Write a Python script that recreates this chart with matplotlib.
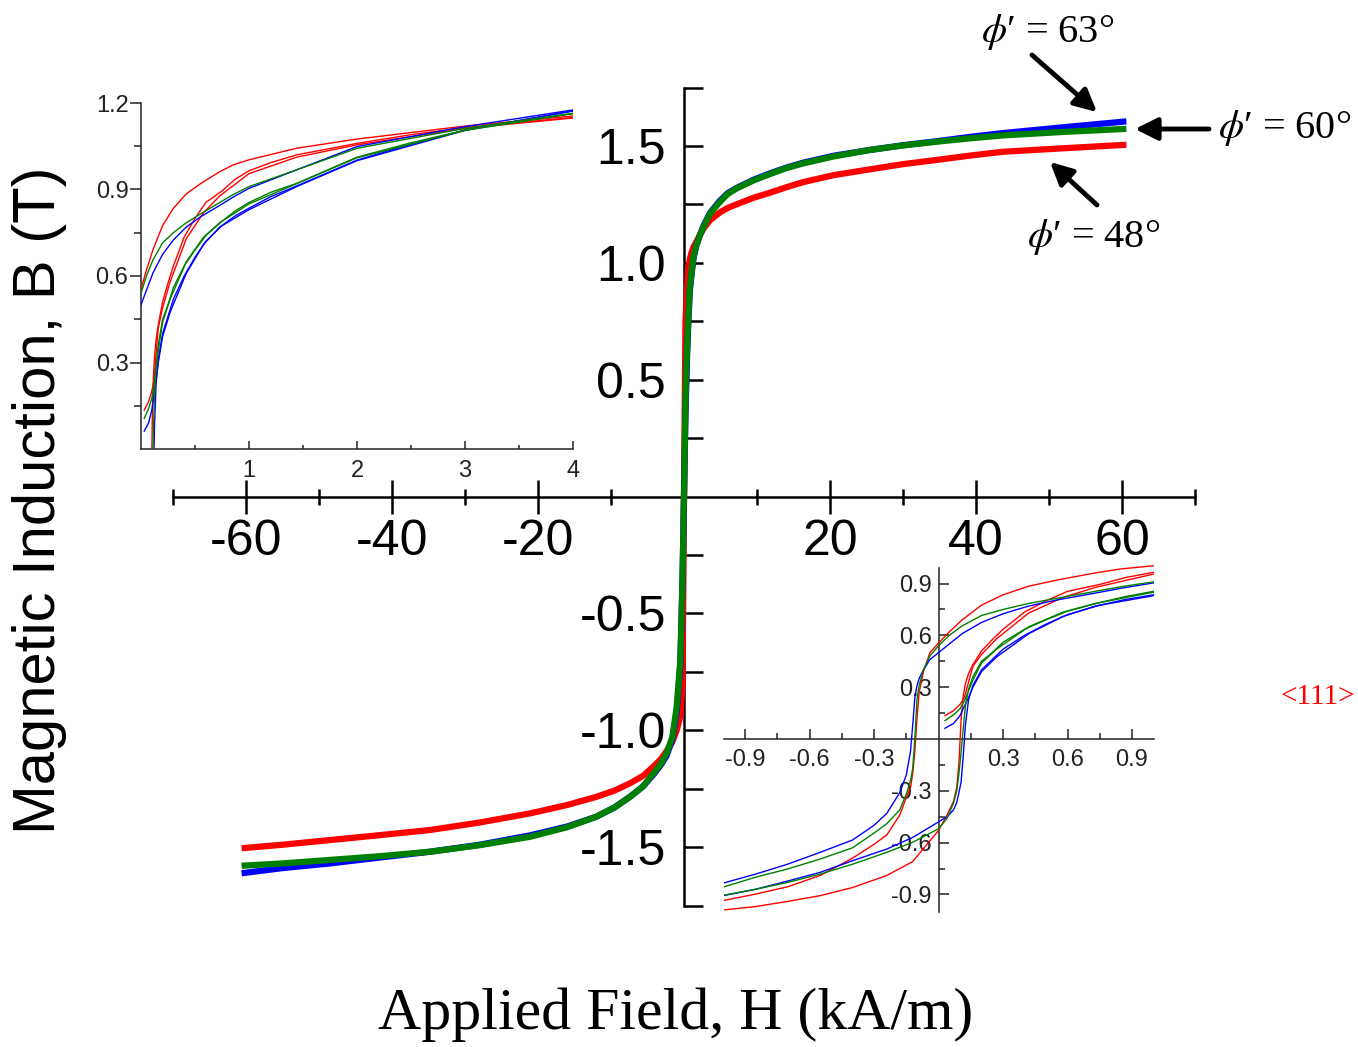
import matplotlib
matplotlib.use("Agg")
import matplotlib.pyplot as plt
from matplotlib.ticker import FixedLocator, FixedFormatter

plt.rcParams['font.family'] = 'Liberation Sans'
plt.rcParams['axes.unicode_minus'] = False
plt.rcParams['mathtext.fontset'] = 'stix'

# ---------------- full loop, H in kA/m, B in T ----------------
H_main = [-60.6, -55.0, -48.5, -42.0, -34.8, -28.0, -21.1, -16.0, -12.0, -9.5, -7.4, -5.6, -4.2,
          -3.2, -2.4, -1.6, -1.0, -0.5, -0.2, 0.0,
          0.2, 0.4, 0.6, 0.8, 1.0, 1.3, 1.7, 2.2, 2.7, 3.6, 4.9, 6.0, 7.2, 9.5, 11.8, 14.0, 16.3,
          20.5, 25.5, 30.0, 34.6, 39.0, 43.7, 52.0, 60.6]
B_main_48 = [-1.505, -1.49, -1.47, -1.45, -1.427, -1.395, -1.356, -1.32, -1.285, -1.258, -1.227, -1.195, -1.156,
             -1.125, -1.09, -1.05, -1.0, -0.94, -0.80, 0.0,
             0.75, 0.88, 0.98, 1.015, 1.04, 1.068, 1.09, 1.12, 1.148, 1.183, 1.215, 1.235, 1.25, 1.278, 1.30,
             1.323, 1.345, 1.375, 1.40, 1.422, 1.44, 1.458, 1.475, 1.49, 1.505]
B_main_60 = [-1.58, -1.57, -1.555, -1.54, -1.52, -1.492, -1.456, -1.415, -1.37, -1.33, -1.285, -1.24, -1.185,
             -1.145, -1.10, -1.03, -0.90, -0.70, -0.35, 0.0,
             0.40, 0.62, 0.77, 0.895, 0.95, 1.026, 1.075, 1.12, 1.155, 1.212, 1.26, 1.295, 1.318, 1.352, 1.38,
             1.405, 1.425, 1.455, 1.483, 1.502, 1.518, 1.532, 1.545, 1.56, 1.573]
B_main_63 = [-1.612, -1.59, -1.57, -1.546, -1.52, -1.49, -1.45, -1.412, -1.37, -1.33, -1.285, -1.24, -1.19,
             -1.15, -1.11, -1.04, -0.92, -0.72, -0.35, 0.0,
             0.35, 0.58, 0.75, 0.88, 0.94, 1.02, 1.075, 1.12, 1.16, 1.215, 1.265, 1.298, 1.32, 1.355, 1.383,
             1.407, 1.428, 1.458, 1.483, 1.503, 1.52, 1.538, 1.555, 1.58, 1.605]

# ---------------- low-field detail ----------------
# descending branch (from positive saturation side)
H_desc = [4.0, 3.0, 2.0, 1.44, 1.0, 0.85, 0.73, 0.55, 0.42, 0.3, 0.2, 0.11, 0.05, 0.0, -0.04, -0.07,
          -0.09, -0.10, -0.11, -0.12, -0.13, -0.15, -0.18, -0.24, -0.3, -0.4, -0.55, -0.7, -0.85, -1.0]
B_desc_48 = [1.155, 1.12, 1.075, 1.043, 1.003, 0.985, 0.962, 0.92, 0.885, 0.835, 0.775, 0.69, 0.62, 0.555, 0.50,
             0.39, 0.27, 0.12, -0.07, -0.20, -0.28, -0.34, -0.44, -0.555, -0.61, -0.69, -0.79, -0.855, -0.898,
             -0.935]
B_desc_60 = [1.164, 1.112, 1.043, 0.968, 0.91, 0.882, 0.855, 0.815, 0.785, 0.75, 0.715, 0.655, 0.60, 0.54, 0.48,
             0.40, 0.31, 0.23, 0.0, -0.17, -0.24, -0.32, -0.41, -0.49, -0.545, -0.63, -0.695, -0.752, -0.80,
             -0.857]
B_desc_63 = [1.176, 1.118, 1.049, 0.968, 0.904, 0.873, 0.845, 0.805, 0.77, 0.725, 0.675, 0.61, 0.55, 0.50, 0.46,
             0.40, 0.35, 0.31, 0.24, 0.08, -0.07, -0.21, -0.31, -0.43, -0.50, -0.585, -0.656, -0.724, -0.782,
             -0.834]

# ascending branch (from negative saturation side)
H_asc = [-1.0, -0.85, -0.7, -0.55, -0.4, -0.24, -0.12, 0.0, 0.04, 0.07, 0.085, 0.095, 0.105, 0.115,
         0.125, 0.14, 0.16, 0.2, 0.25, 0.3, 0.4, 0.5, 0.6, 0.75, 0.87, 1.0, 1.2, 1.44, 2.0, 2.5, 3.0, 4.0]
B_asc_48 = [-0.99, -0.97, -0.94, -0.907, -0.86, -0.79, -0.71, -0.53, -0.44, -0.36, -0.28, -0.14, 0.11, 0.25,
            0.32, 0.38, 0.43, 0.51, 0.575, 0.635, 0.735, 0.80, 0.855, 0.895, 0.935, 0.965, 0.993, 1.02, 1.06,
            1.09, 1.115, 1.15]
B_asc_60 = [-0.905, -0.87, -0.83, -0.782, -0.725, -0.656, -0.598, -0.52, -0.46, -0.37, -0.30, -0.20, -0.08, 0.06,
            0.19, 0.29, 0.36, 0.45, 0.50, 0.56, 0.635, 0.69, 0.74, 0.79, 0.825, 0.855, 0.89, 0.921, 1.012,
            1.062, 1.106, 1.164]
B_asc_63 = [-0.907, -0.87, -0.822, -0.772, -0.705, -0.637, -0.57, -0.48, -0.45, -0.41, -0.367, -0.31, -0.25, -0.10,
            0.08, 0.23, 0.31, 0.40, 0.46, 0.52, 0.60, 0.665, 0.72, 0.775, 0.808, 0.835, 0.875, 0.912, 1.002,
            1.057, 1.106, 1.173]

# initial magnetisation curve
H_init = [0.03, 0.07, 0.1, 0.12, 0.14, 0.16, 0.2, 0.27, 0.42, 0.58, 0.73, 1.0, 1.44, 2.0, 3.0, 4.0]
B_init_48 = [0.135, 0.164, 0.20, 0.24, 0.33, 0.42, 0.49, 0.58, 0.73, 0.82, 0.878, 0.955, 1.012, 1.055, 1.112, 1.148]
B_init_60 = [0.106, 0.14, 0.175, 0.22, 0.28, 0.34, 0.44, 0.52, 0.65, 0.735, 0.785, 0.85, 0.92, 1.01, 1.105, 1.163]
B_init_63 = [0.062, 0.09, 0.135, 0.19, 0.24, 0.30, 0.39, 0.475, 0.61, 0.71, 0.77, 0.83, 0.91, 1.0, 1.105, 1.172]

angle_labels = ["48", "60", "63"]
colors = {"48": "red", "63": "blue", "60": "green"}
draw_order = ["48", "63", "60"]

main_B = {"48": B_main_48, "60": B_main_60, "63": B_main_63}
desc_B = {"48": B_desc_48, "60": B_desc_60, "63": B_desc_63}
asc_B = {"48": B_asc_48, "60": B_asc_60, "63": B_asc_63}
init_B = {"48": B_init_48, "60": B_init_60, "63": B_init_63}

W, Hpx = 1358, 1047
fig = plt.figure(figsize=(W / 100, Hpx / 100), dpi=100)


def frac_box(x0, y_top, x1, y_bot):
    return [x0 / W, 1 - y_bot / Hpx, (x1 - x0) / W, (y_bot - y_top) / Hpx]


# ---------------- main axes ----------------
ax = fig.add_axes(frac_box(173, 87.5, 1195, 905.5))
ax.set_xlim(-70, 70)
ax.set_ylim(-1.75, 1.75)
ax.patch.set_alpha(0)
for s in ("right", "top"):
    ax.spines[s].set_visible(False)
ax.spines["left"].set_position(("data", 0))
ax.spines["bottom"].set_position(("data", 0))
for s in ("left", "bottom"):
    ax.spines[s].set_linewidth(1.8)

ax.xaxis.set_major_locator(FixedLocator([-60, -40, -20, 20, 40, 60]))
ax.xaxis.set_major_formatter(FixedFormatter(["-60", "-40", "-20", "20", "40", "60"]))
ax.xaxis.set_minor_locator(FixedLocator([-70, -50, -30, -10, 10, 30, 50, 70]))
ax.yaxis.set_major_locator(FixedLocator([-1.5, -1.0, -0.5, 0.5, 1.0, 1.5]))
ax.yaxis.set_major_formatter(FixedFormatter(["-1.5", "-1.0", "-0.5", "0.5", "1.0", "1.5"]))
ax.yaxis.set_minor_locator(FixedLocator([-1.75, -1.25, -0.75, -0.25, 0.25, 0.75, 1.25, 1.75]))
ax.tick_params(axis="x", which="major", direction="inout", length=24, width=1.8, labelsize=36, pad=4)
ax.tick_params(axis="x", which="minor", direction="inout", length=12, width=1.8)
ax.tick_params(axis="y", which="major", direction="in", length=14, width=1.8, labelsize=36, pad=13)
ax.tick_params(axis="y", which="minor", direction="in", length=14, width=1.8)

for k in draw_order:
    ax.plot(H_main, main_B[k], color=colors[k], lw=4.5, solid_capstyle="butt",
            solid_joinstyle="round", zorder=3)

# ---------------- upper-left inset: first quadrant ----------------
ax1 = fig.add_axes(frac_box(141, 103, 573, 449))
ax1.set_xlim(0, 4)
ax1.set_ylim(0, 1.2)
ax1.patch.set_alpha(0)
for s in ("right", "top"):
    ax1.spines[s].set_visible(False)
for s in ("left", "bottom"):
    ax1.spines[s].set_linewidth(1.1)
    ax1.spines[s].set_color("#222222")
ax1.xaxis.set_major_locator(FixedLocator([1, 2, 3, 4]))
ax1.xaxis.set_major_formatter(FixedFormatter(["1", "2", "3", "4"]))
ax1.xaxis.set_minor_locator(FixedLocator([0.5, 1.5, 2.5, 3.5]))
ax1.yaxis.set_major_locator(FixedLocator([0.3, 0.6, 0.9, 1.2]))
ax1.yaxis.set_major_formatter(FixedFormatter(["0.3", "0.6", "0.9", "1.2"]))
ax1.yaxis.set_minor_locator(FixedLocator([0.15, 0.45, 0.75, 1.05]))
ax1.tick_params(axis="x", which="major", direction="in", length=6, width=1.1, labelsize=17, pad=8,
                colors="#222222")
ax1.tick_params(axis="x", which="minor", direction="in", length=3, width=1.1, colors="#222222")
ax1.tick_params(axis="y", which="major", direction="out", length=8, width=1.1, labelsize=17, pad=1,
                colors="#222222")
ax1.tick_params(axis="y", which="minor", direction="out", length=5, width=1.1, colors="#222222")

# ---------------- lower-right inset: low-field loop ----------------
ax2 = fig.add_axes(frac_box(723.5, 739 - 1.03 * 172.7, 1153.5, 739 + 1.0 * 172.7))
ax2.set_xlim(-1.0, 1.0)
ax2.set_ylim(-1.0, 1.03)
ax2.patch.set_alpha(0)
ax2.set_axisbelow(True)
for s in ("right", "top"):
    ax2.spines[s].set_visible(False)
ax2.spines["left"].set_position(("data", 0))
ax2.spines["bottom"].set_position(("data", 0))
ax2.spines["left"].set_bounds(-1.0, 0.99)
for s in ("left", "bottom"):
    ax2.spines[s].set_linewidth(1.1)
    ax2.spines[s].set_color("#222222")
lr_ticks = [-0.9, -0.6, -0.3, 0.3, 0.6, 0.9]
lr_labels = ["-0.9", "-0.6", "-0.3", "0.3", "0.6", "0.9"]
lr_minor = [-0.75, -0.45, -0.15, 0.15, 0.45, 0.75]
for axis in (ax2.xaxis, ax2.yaxis):
    axis.set_major_locator(FixedLocator(lr_ticks))
    axis.set_major_formatter(FixedFormatter(lr_labels))
    axis.set_minor_locator(FixedLocator(lr_minor))
ax2.tick_params(axis="both", which="major", direction="in", length=7, width=1.1, labelsize=17,
                colors="#222222")
ax2.tick_params(axis="both", which="minor", direction="in", length=4, width=1.1, colors="#222222")
ax2.tick_params(axis="x", which="major", pad=7)
ax2.tick_params(axis="y", which="major", pad=5)

for a in (ax1, ax2):
    for k in draw_order:
        c = colors[k]
        a.plot(H_desc, desc_B[k], color=c, lw=1.0, zorder=3, solid_joinstyle="round")
        a.plot(H_asc, asc_B[k], color=c, lw=1.0, zorder=3, solid_joinstyle="round")
        a.plot(H_init, init_B[k], color=c, lw=1.0, zorder=3, solid_joinstyle="round")

# ---------------- axis titles ----------------
fig.text(40 / W, 1 - 500 / Hpx, "Magnetic Induction, B (T)", rotation=90, ha="center", va="center",
         fontsize=43, family="Liberation Sans")
fig.text(676 / W, 1 - 1015 / Hpx, "Applied Field, H (kA/m)", ha="center", va="center",
         fontsize=43, family="Liberation Serif")
fig.text(1318 / W, 1 - 697 / Hpx, "<111>", ha="center", va="center", fontsize=21, color="red",
         family="Liberation Serif")

# ---------------- orientation labels with arrows ----------------
label_pos = {"63": (1048, 32), "60": (1285, 128), "48": (1094, 237)}
for k in angle_labels:
    x, y = label_pos[k]
    fig.text(x / W, 1 - y / Hpx, r"$\phi$" + "\u2032 = " + k + "°", ha="center", va="center",
             fontsize=29, family=["Liberation Serif", "DejaVu Serif"])

arrows = [((1032, 55), (1097, 112)), ((1209, 129), (1135, 129)), ((1097, 205), (1050, 162))]
for (tx, ty), (hx, hy) in arrows:
    ax.annotate("", xy=(hx, Hpx - hy), xytext=(tx, Hpx - ty),
                xycoords="figure pixels", textcoords="figure pixels",
                arrowprops=dict(arrowstyle="-|>,head_length=0.9,head_width=0.45", lw=3.5,
                                color="black", mutation_scale=15, shrinkA=0, shrinkB=0))

fig.savefig("out.png", dpi=100)
